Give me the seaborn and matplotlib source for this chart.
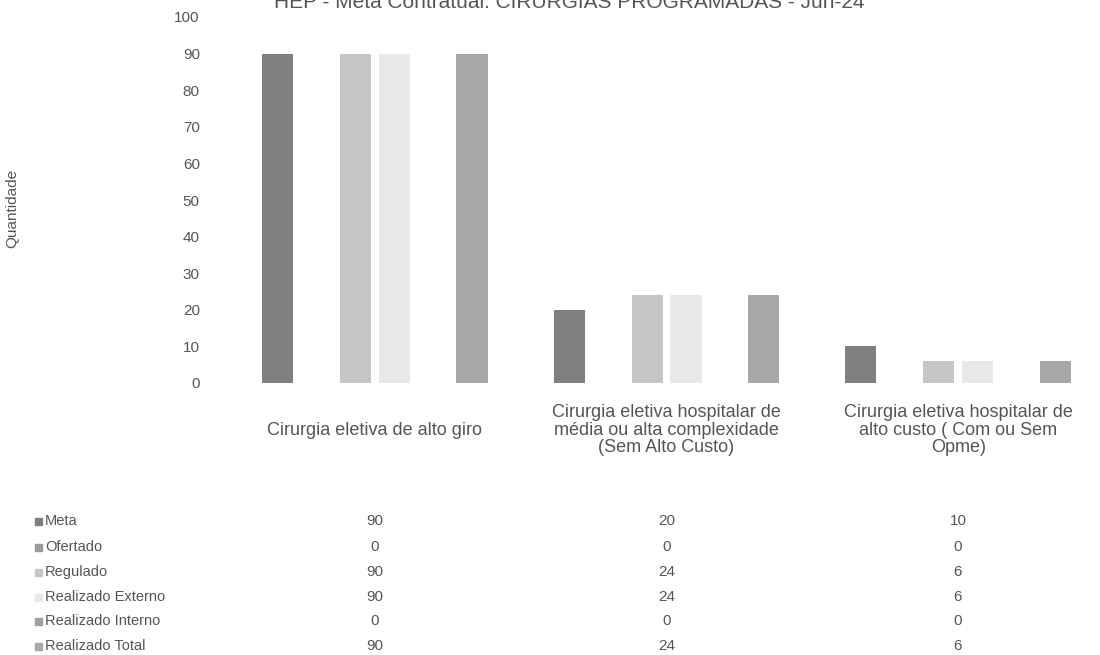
import pandas as pd
import numpy as np
import matplotlib
matplotlib.use('Agg')
import matplotlib.pyplot as plt
import seaborn as sns

categories = [
    'Cirurgia eletiva de alto giro',
    'Cirurgia eletiva hospitalar de\nmédia ou alta complexidade\n(Sem Alto Custo)',
    'Cirurgia eletiva hospitalar de\nalto custo ( Com ou Sem\nOpme)',
]
series_names = ['Meta', 'Ofertado', 'Regulado', 'Realizado Externo',
                'Realizado Interno', 'Realizado Total']
meta = [90, 20, 10]
ofertado = [0, 0, 0]
regulado = [90, 24, 6]
realizado_externo = [90, 24, 6]
realizado_interno = [0, 0, 0]
realizado_total = [90, 24, 6]

series_values = [meta, ofertado, regulado, realizado_externo,
                 realizado_interno, realizado_total]
colors = ['#808080', '#9a9a9a', '#c6c6c6', '#e8e8e8', '#a0a0a0', '#a8a8a8']

rows = []
for name, vals in zip(series_names, series_values):
    for cat, v in zip(categories, vals):
        rows.append({'categoria': cat, 'serie': name, 'valor': v})
df = pd.DataFrame(rows)

sns.set_theme(style='white')
plt.rcParams['font.family'] = ['Liberation Sans', 'DejaVu Sans']
text_color = '#555555'

fig = plt.figure(figsize=(11, 6.55), dpi=100)
ax = fig.add_axes([229 / 1100, (655 - 383) / 655, 875 / 1100, 366 / 655])

sns.barplot(data=df, x='categoria', y='valor', hue='serie',
            hue_order=series_names, palette=colors, gap=0.2,
            saturation=1, legend=False, ax=ax)
for p in ax.patches:
    p.set_edgecolor('none')

ax.set_xlim(-0.5, 2.5)
ax.set_ylim(0, 100)
ax.set_yticks(range(0, 101, 10))
ax.tick_params(axis='y', length=0, pad=21, labelsize=11, labelcolor=text_color)
ax.set_xticks(range(3))
ax.set_xticklabels(categories, fontsize=13, color=text_color, linespacing=1.05,
                   va='center')
ax.tick_params(axis='x', length=0, pad=34)
for s in ax.spines.values():
    s.set_visible(False)
ax.set_xlabel('')
ax.set_ylabel('')
fig.text(12 / 1100, 1 - 208 / 655, 'Quantidade', rotation=90, ha='center',
         va='center', fontsize=11, color=text_color)

fig.text(569 / 1100, 1 - 12 / 655, 'HEP - Meta Contratual: CIRURGIAS PROGRAMADAS - Jun-24',
         ha='center', va='bottom', fontsize=15, color=text_color)

# data table under the chart
row_y = [521, 547, 572, 597, 621, 646]
col_x = [375, 667, 958]
for name, vals, c, y in zip(series_names, series_values, colors, row_y):
    fy = 1 - y / 655
    fig.patches.append(plt.Rectangle((35 / 1100, fy - 3.5 / 655), 7 / 1100, 7 / 655,
                                     transform=fig.transFigure, color=c))
    fig.text(45 / 1100, fy, name, ha='left', va='center', fontsize=10.5, color=text_color)
    for x, v in zip(col_x, vals):
        fig.text(x / 1100, fy, str(v), ha='center', va='center', fontsize=11,
                 color=text_color)

fig.savefig('out.png', dpi=100)
